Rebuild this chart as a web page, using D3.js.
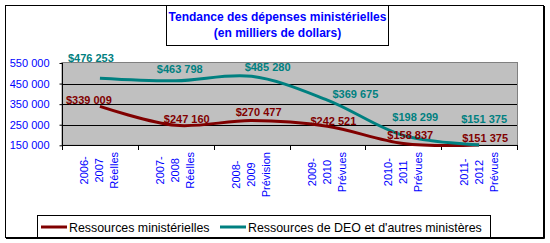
<!DOCTYPE html>
<html>
<head>
<meta charset="utf-8">
<script src="https://cdn.jsdelivr.net/npm/d3@7"></script>
<style>
  body { margin: 0; background: #fff; }
  svg { display: block; font-family: "Liberation Sans", Arial, sans-serif; }
</style>
</head>
<body>
<div id="chart"></div>
<script>
// categories (3 lines each, as drawn under the axis)
var catLines = [
  ["2006-", "2007", "Réelles"],
  ["2007-", "2008", "Réelles"],
  ["2008-", "2009", "Prévision"],
  ["2009-", "2010", "Prévues"],
  ["2010-", "2011", "Prévues"],
  ["2011-", "2012", "Prévues"]
];
var ministerielles = [339009, 247160, 270477, 242521, 158837, 151375];
var deoAutres = [476253, 463798, 485280, 369675, 198299, 151375];
var yTicks = [150000, 250000, 350000, 450000, 550000];
var seriesNames = ["Ressources ministérielles", "Ressources de DEO et d'autres ministères"];
var titleLines = ["Tendance des dépenses ministérielles", "(en milliers de dollars)"];

// label nudges (px, centre of label relative to point) as placed in the original
var redNudge = [[-11, -6], [11, -6], [7, -9], [6, -5], [7, -8], [6, -7]];
var tealNudge = [[-9, -20], [4, -12], [16, -9], [28, -6], [12, -18], [5, -26]];

var W = 550, H = 243;
var plot = {left: 62, right: 517, top: 63, bottom: 145.3};

var svg = d3.select("#chart").append("svg")
  .attr("width", W).attr("height", H);

// outer frame with a little shadow
svg.append("rect").attr("x", 5.5).attr("y", 5.5).attr("width", 538).attr("height", 232)
  .attr("fill", "#fff").attr("stroke", "#000");
svg.append("path").attr("d", "M6,238.5H544.5V6").attr("fill", "none").attr("stroke", "#000");

// title box
svg.append("rect").attr("x", 166.5).attr("y", 5.5).attr("width", 222).attr("height", 40)
  .attr("fill", "#fff").attr("stroke", "#000");
svg.selectAll("text.title").data(titleLines).enter().append("text")
  .attr("class", "title")
  .attr("x", 277.5)
  .attr("y", function(d, i) { return 21 + i * 16; })
  .attr("text-anchor", "middle")
  .attr("fill", "#0000ff")
  .style("font-size", "12px").style("font-weight", "bold")
  .text(function(d) { return d; });

var x = d3.scaleBand().domain(d3.range(catLines.length)).range([plot.left, plot.right]);
var y = d3.scaleLinear().domain([150000, 550000]).range([plot.bottom, plot.top]);

// plot area
svg.append("rect")
  .attr("x", plot.left).attr("y", plot.top - 0.5)
  .attr("width", plot.right - plot.left + 0.5).attr("height", plot.bottom - plot.top + 0.5)
  .attr("fill", "#c0c0c0").attr("stroke", "#808080");

// grid
svg.selectAll("line.grid").data(yTicks.slice(1, -1)).enter().append("line")
  .attr("x1", plot.left).attr("x2", plot.right)
  .attr("y1", function(d) { return Math.round(y(d)) + 0.5; })
  .attr("y2", function(d) { return Math.round(y(d)) + 0.5; })
  .attr("stroke", "#000");

// y axis
var yAxis = d3.axisLeft(y).tickValues(yTicks).tickSize(3).tickPadding(10)
  .tickFormat(function(d) { return d3.format(",")(d).replace(/,/g, " "); });
var gy = svg.append("g").attr("transform", "translate(" + (plot.left + 0.5) + ",0)").call(yAxis);
gy.select(".domain").attr("stroke", "#000").attr("d", "M0," + plot.top + "V" + plot.bottom);
gy.selectAll("text").attr("fill", "#0000ff").style("font-size", "11px").style("font-family", "Liberation Sans, Arial, sans-serif");

// x axis line + ticks at category boundaries
svg.append("line").attr("x1", plot.left).attr("x2", plot.right + 1)
  .attr("y1", Math.round(plot.bottom) + 0.5).attr("y2", Math.round(plot.bottom) + 0.5).attr("stroke", "#000");
var bounds = d3.range(catLines.length).map(function(i) { return x(i); }).concat([plot.right]);
svg.selectAll("line.xtick").data(bounds).enter().append("line")
  .attr("x1", function(d) { return Math.round(d) + 0.5; })
  .attr("x2", function(d) { return Math.round(d) + 0.5; })
  .attr("y1", Math.round(plot.bottom)).attr("y2", Math.round(plot.bottom) + 5)
  .attr("stroke", "#000");

// category labels, rotated
var cats = svg.selectAll("text.cat").data(catLines).enter().append("text")
  .attr("class", "cat")
  .attr("text-anchor", "middle")
  .attr("fill", "#0000ff")
  .style("font-size", "11px");
cats.selectAll("tspan").data(function(d) { return d; }).enter().append("tspan")
  .attr("x", 0)
  .attr("y", function(d, i) { return -11.5 + i * 15; })
  .text(function(d) { return d; });
cats.attr("transform", function(d, i) {
  var maxLen = d3.max(d3.select(this).selectAll("tspan").nodes(), function(n) { return n.getComputedTextLength(); });
  var cx = x(i) + x.bandwidth() / 2;
  return "translate(" + cx + "," + (152 + maxLen / 2) + ") rotate(-90)";
});

// lines
var line = d3.line()
  .x(function(d, i) { return x(i) + x.bandwidth() / 2; })
  .y(function(d) { return y(d); })
  .curve(d3.curveCatmullRom);

svg.append("path").datum(ministerielles).attr("d", line)
  .attr("fill", "none").attr("stroke", "#800000").attr("stroke-width", 3);
svg.append("path").datum(deoAutres).attr("d", line)
  .attr("fill", "none").attr("stroke", "#008080").attr("stroke-width", 3);

function money(v) { return "$" + d3.format(",")(v).replace(/,/g, " "); }

function labels(values, nudge, color) {
  svg.append("g").selectAll("text").data(values).enter().append("text")
    .attr("x", function(d, i) { return x(i) + x.bandwidth() / 2 + nudge[i][0]; })
    .attr("y", function(d, i) { return y(d) + nudge[i][1] + 4; })
    .attr("text-anchor", "middle")
    .attr("fill", color)
    .style("font-size", "11px").style("font-weight", "bold")
    .text(money);
}
labels(ministerielles, redNudge, "#800000");
labels(deoAutres, tealNudge, "#008080");

// legend
var lg = svg.append("g");
lg.append("rect").attr("x", 37.5).attr("y", 215.5).attr("width", 453).attr("height", 22)
  .attr("fill", "#fff").attr("stroke", "#000");
var legendItems = [
  {name: seriesNames[0], color: "#800000", x: 41},
  {name: seriesNames[1], color: "#008080", x: 220}
];
legendItems.forEach(function(it) {
  lg.append("line").attr("x1", it.x).attr("x2", it.x + 26).attr("y1", 227).attr("y2", 227)
    .attr("stroke", it.color).attr("stroke-width", 3);
  lg.append("text").attr("x", it.x + 28).attr("y", 231.5)
    .attr("fill", "#000").style("font-size", "12.4px").text(it.name);
});
</script>
</body>
</html>
